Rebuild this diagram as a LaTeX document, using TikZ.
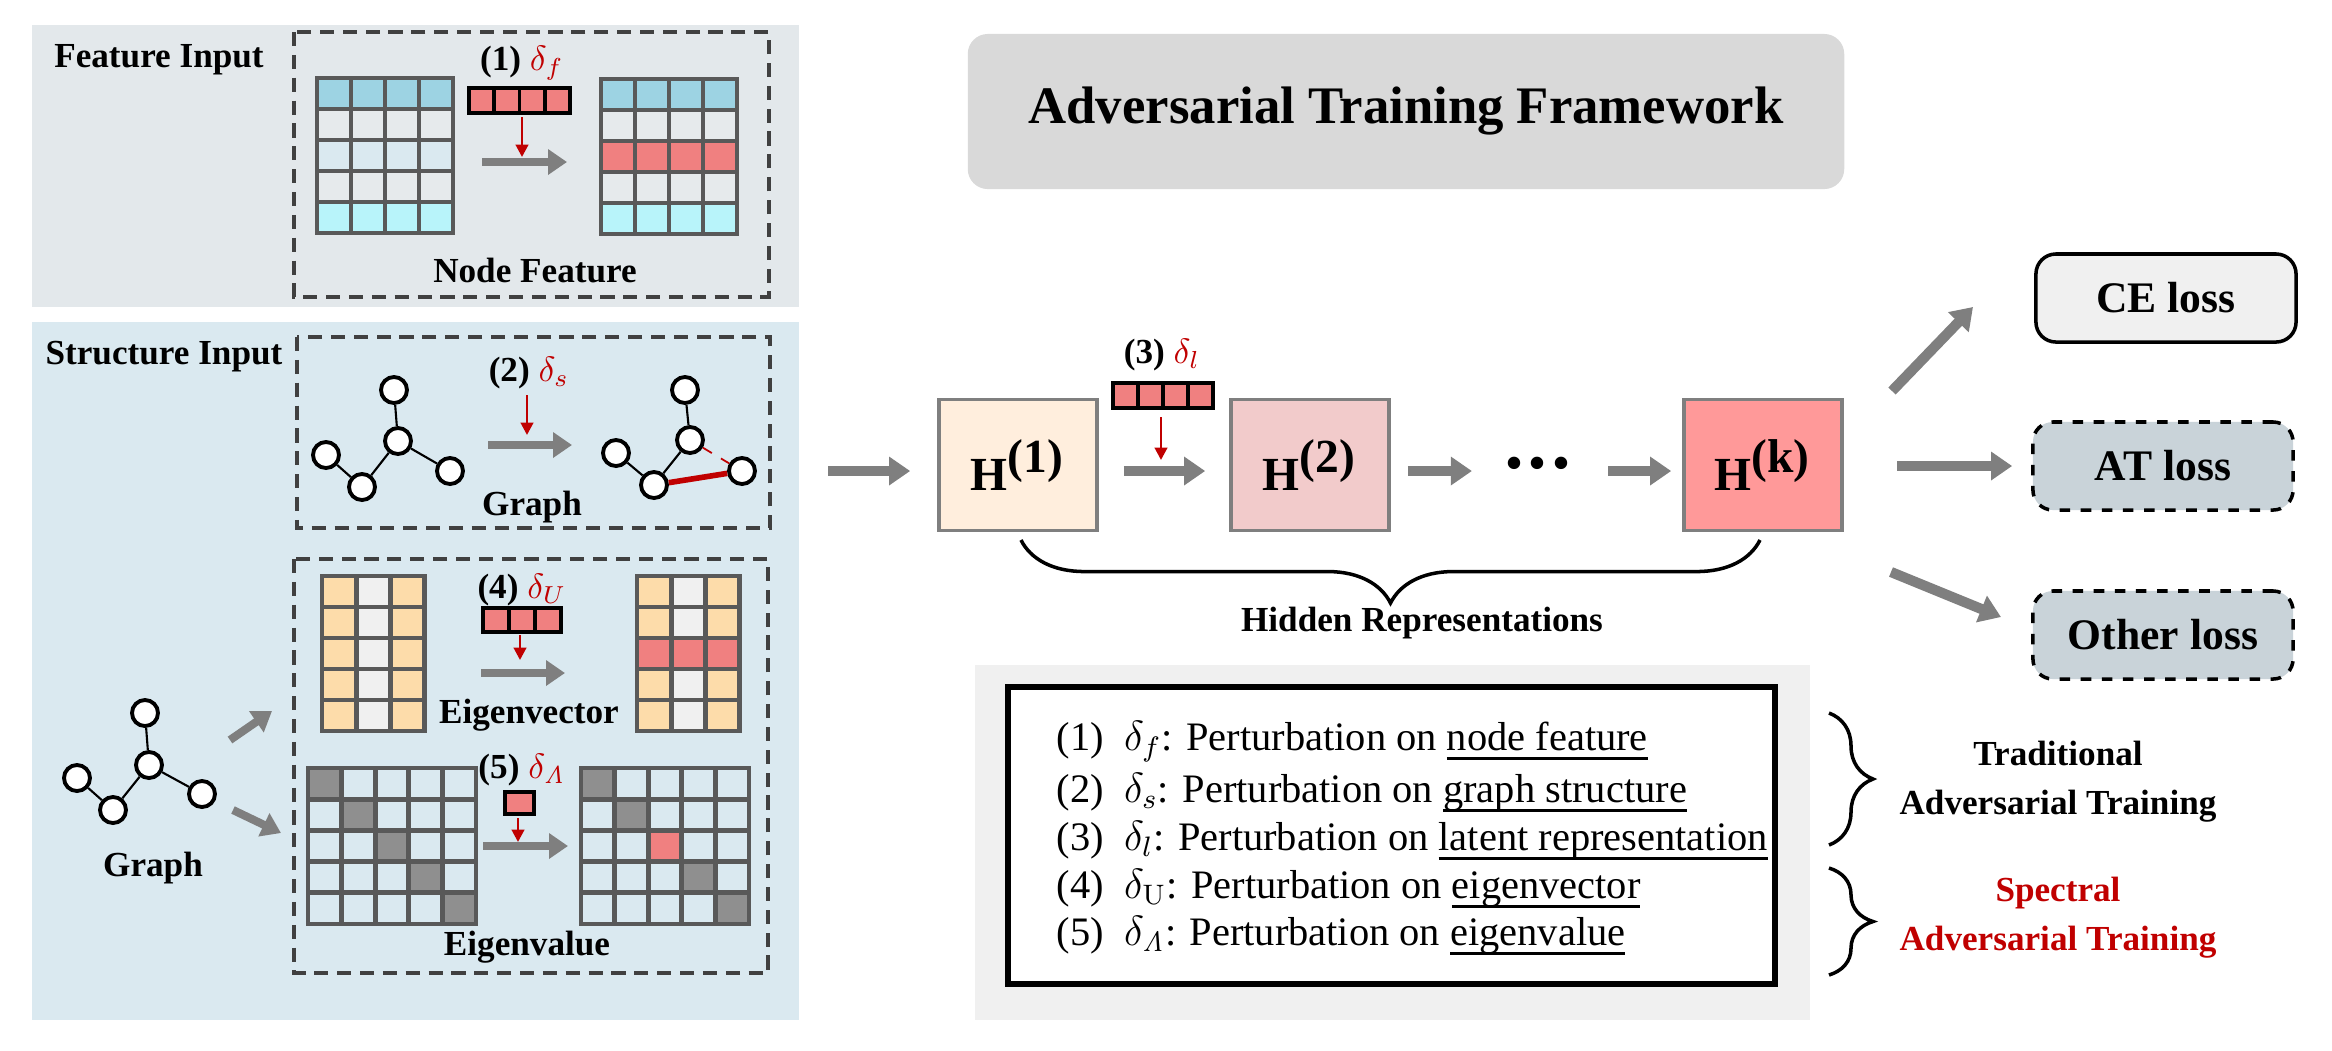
\documentclass[tikz,border=0pt]{standalone}
\usepackage[no-math]{fontspec}
\setmainfont{Liberation Serif}
\usetikzlibrary{arrows.meta,decorations.pathreplacing,positioning}

\definecolor{featbg}{HTML}{E3E8EB}
\definecolor{strbg}{HTML}{DAE9F0}
\definecolor{fblue}{HTML}{9DD3E3}
\definecolor{frow}{HTML}{E6EAEC}
\definecolor{flight}{HTML}{DAE9F0}
\definecolor{fcyan}{HTML}{B8F4FA}
\definecolor{pertred}{HTML}{F08080}
\definecolor{pertdark}{HTML}{C00000}
\definecolor{eorange}{HTML}{FDDCAA}
\definecolor{egray}{HTML}{F0F0F0}
\definecolor{diaggray}{HTML}{8F8F8F}
\definecolor{gridgray}{HTML}{595959}
\definecolor{dashgray}{HTML}{404040}
\definecolor{arrgray}{HTML}{7F7F7F}
\definecolor{hone}{HTML}{FFEEDD}
\definecolor{htwo}{HTML}{F2CBCB}
\definecolor{hk}{HTML}{FF9999}
\definecolor{titlegray}{HTML}{D9D9D9}
\definecolor{legbg}{HTML}{F0F0F0}
\definecolor{atgray}{HTML}{C9D3D9}

\newcommand{\lab}{\fontsize{10}{12}\selectfont\bfseries}
\newcommand{\undl}[1]{\setbox0=\hbox{#1}\rlap{\rule[-2.9pt]{\wd0}{0.9pt}}\box0}

\tikzset{
  dashbox/.style={draw=dashgray, line width=1.1pt, dash pattern=on 4pt off 2.5pt},
  cell/.style={draw=gridgray, line width=1.4pt},
  vcell/.style={draw=black, line width=1.1pt, fill=pertred},
  gnode/.style={circle, draw=black, fill=white, line width=1.1pt, minimum size=0.26cm, inner sep=0pt},
  gedge/.style={line width=0.6pt},
  grayarr/.style={draw=arrgray, line width=2.3pt, -{Triangle[length=5.4pt,width=7pt]}},
  grayarrbig/.style={draw=arrgray, line width=2.9pt, -{Triangle[length=6pt,width=7.8pt]}},
  redarr/.style={draw=pertdark, line width=0.8pt, -{Triangle[length=3.5pt,width=3.5pt]}},
  hbox/.style={draw=arrgray, line width=1pt, minimum width=1.58cm, minimum height=1.31cm, font=\fontsize{13.5}{15}\selectfont},
  lossbox/.style={rounded corners=0.2cm, line width=1pt, minimum width=2.6cm, minimum height=0.88cm, font=\fontsize{12.4}{14}\selectfont\bfseries},
  brace/.style={decorate, line width=1pt}
}

\begin{document}
\begin{tikzpicture}[x=0.01cm,y=-0.01cm]
\useasboundingbox (0,0) rectangle (2332,1050);

% input panels
\fill[featbg] (32,25) rectangle (799,307);
\fill[strbg] (32,322) rectangle (799,1020);
\draw[dashbox] (294,32) rectangle (769,297);
\draw[dashbox] (297,337) rectangle (770,528);
\draw[dashbox] (294,559) rectangle (768,973);
\node[font=\lab] (featin) at (159,60) {Feature Input};
\node[font=\lab] (strin) at (164,357) {Structure Input};

% node feature
\foreach \c [count=\r from 0] in {fblue,frow,flight,frow,fcyan}
  \foreach \k in {0,...,3}
    \draw[cell,fill=\c] ({317+34*\k},{78+31*\r}) rectangle ++(34,31);
\foreach \c [count=\r from 0] in {fblue,frow,pertred,frow,fcyan}
  \foreach \k in {0,...,3}
    \draw[cell,fill=\c] ({601+34*\k},{79+31*\r}) rectangle ++(34,31);
\foreach \k in {0,...,3}
  \draw[vcell] ({469+25.25*\k},88) rectangle ++(25.25,25);
\node[font=\lab] (pf) at (522,63) {(1) \textcolor{pertdark}{$\delta_f$}};
\coordinate (rf1) at (522,117);
\coordinate (rf2) at (522,157);
\draw[redarr] (rf1) -- (rf2);
\coordinate (af1) at (482,162);
\coordinate (af2) at (567,162);
\draw[grayarr] (af1) -- (af2);
\node[font=\lab] (nodefeat) at (535,270) {Node Feature};

% graph structure
\node[gnode] (ga1) at (394,390) {};
\node[gnode] (ga2) at (398,441) {};
\node[gnode] (ga3) at (326,455) {};
\node[gnode] (ga4) at (362,487) {};
\node[gnode] (ga5) at (450,471) {};
\draw[gedge] (ga1) -- (ga2) (ga2) -- (ga4) (ga4) -- (ga3) (ga2) -- (ga5);
\node[gnode] (gb1) at (685,390) {};
\node[gnode] (gb2) at (690,440) {};
\node[gnode] (gb3) at (616,453) {};
\node[gnode] (gb4) at (654,485) {};
\node[gnode] (gb5) at (742,471) {};
\draw[gedge] (gb1) -- (gb2) (gb2) -- (gb4) (gb4) -- (gb3);
\draw[pertdark, line width=1.6pt] (gb4) -- (gb5);
\draw[pertdark, line width=0.5pt, dashed] (gb2) -- (gb5);
\node[font=\lab] (ps) at (529,373) {(2) \textcolor{pertdark}{$\delta_s$}};
\coordinate (rs1) at (527,395);
\coordinate (rs2) at (527,435);
\draw[redarr] (rs1) -- (rs2);
\coordinate (as1) at (488,445);
\coordinate (as2) at (572,445);
\draw[grayarr] (as1) -- (as2);
\node[font=\lab] (graph) at (532,507) {Graph};

% spectral input graph
\node[gnode] (gc1) at (145,713) {};
\node[gnode] (gc2) at (149,765) {};
\node[gnode] (gc3) at (77,778) {};
\node[gnode] (gc4) at (113,810) {};
\node[gnode] (gc5) at (202,794) {};
\draw[gedge] (gc1) -- (gc2) (gc2) -- (gc4) (gc4) -- (gc3) (gc2) -- (gc5);
\node[font=\lab] (graphc) at (153,868) {Graph};
\coordinate (ac1) at (230,740);
\coordinate (ac2) at (272,711);
\draw[grayarr] (ac1) -- (ac2);
\coordinate (ac3) at (233,810);
\coordinate (ac4) at (281,833);
\draw[grayarr] (ac3) -- (ac4);

% eigenvector
\foreach \c [count=\k from 0] in {eorange,egray,eorange}
  \foreach \r in {0,...,4} {
    \draw[cell,fill=\c] ({322+34.3*\k},{576+31*\r}) rectangle ++(34.3,31);
    \draw[cell,fill=\c] ({637+34.3*\k},{576+31*\r}) rectangle ++(34.3,31);
  }
\foreach \k in {0,1,2}
  \draw[cell,fill=pertred] ({637+34.3*\k},638) rectangle ++(34.3,31);
\foreach \k in {0,1,2}
  \draw[vcell] ({483+26*\k},608) rectangle ++(26,24);
\node[font=\lab] (pu) at (522,590) {(4) \textcolor{pertdark}{$\delta_U$}};
\coordinate (ru1) at (520,635);
\coordinate (ru2) at (520,660);
\draw[redarr] (ru1) -- (ru2);
\coordinate (au1) at (481,673);
\coordinate (au2) at (565,673);
\draw[grayarr] (au1) -- (au2);
\node[font=\lab] (eigvec) at (529,715) {Eigenvector};

% eigenvalue
\foreach \r in {0,...,4}
  \foreach \k in {0,...,4} {
    \draw[cell,fill=strbg] ({308+33.6*\k},{768+31.2*\r}) rectangle ++(33.6,31.2);
    \draw[cell,fill=strbg] ({581+33.6*\k},{768+31.2*\r}) rectangle ++(33.6,31.2);
  }
\foreach \k in {0,...,4}
  \draw[cell,fill=diaggray] ({308+33.6*\k},{768+31.2*\k}) rectangle ++(33.6,31.2);
\foreach \k in {0,1,3,4}
  \draw[cell,fill=diaggray] ({581+33.6*\k},{768+31.2*\k}) rectangle ++(33.6,31.2);
\draw[cell,fill=pertred] (648.2,830.4) rectangle ++(33.6,31.2);
\draw[vcell] (505,792) rectangle (534,814);
\node[font=\lab] (pl) at (522,770) {(5) \textcolor{pertdark}{$\delta_{\mathit{\Lambda}}$}};
\coordinate (rl1) at (518,818);
\coordinate (rl2) at (518,842);
\draw[redarr] (rl1) -- (rl2);
\coordinate (al1) at (483,846);
\coordinate (al2) at (568,846);
\draw[grayarr] (al1) -- (al2);
\node[font=\lab] (eigval) at (527,947) {Eigenvalue};

% framework
\node[rounded corners=0.2cm, fill=titlegray, minimum width=8.76cm, minimum height=1.55cm,
  font=\fontsize{15}{18}\selectfont\bfseries] (title) at (1406,111.5) {Adversarial Training Framework};

\node[hbox, fill=hone] (h1) at (1018,465) {\textbf{H}$^{\textbf{(1)}}$};
\node[hbox, fill=htwo] (h2) at (1310,465) {\textbf{H}$^{\textbf{(2)}}$};
\node (dots) at (1538,468) {\fontsize{13}{14}\selectfont\textbf{\textbullet\,\textbullet\,\textbullet}};
\node[hbox, fill=hk] (hk) at (1763,465) {\textbf{H}$^{\textbf{(k)}}$};
\coordinate (in0) at (828,471);
\draw[grayarrbig, shorten >=0.27cm] (in0) -- (in0 -| h1.west);
\draw[grayarrbig, shorten <=0.25cm, shorten >=0.24cm] (h1.east |- in0) -- (h2.west |- in0);
\draw[grayarrbig, shorten <=0.17cm, shorten >=0.22cm] (h2.east |- in0) -- (dots.west |- in0);
\draw[grayarrbig, shorten <=0.26cm, shorten >=0.11cm] (dots.east |- in0) -- (hk.west |- in0);
\foreach \k in {0,...,3}
  \draw[vcell] ({1113+25*\k},383) rectangle ++(25,25);
\node[font=\lab] (pl3) at (1162,355) {(3) \textcolor{pertdark}{$\delta_l$}};
\coordinate (rh1) at (1161,417);
\coordinate (rh2) at (1161,460);
\draw[redarr] (rh1) -- (rh2);
\coordinate (br1) at (1021,540);
\coordinate (br2) at (1760,540);
\draw[brace, decoration={brace, mirror, amplitude=0.63cm}] (br1) -- (br2);
\node[font=\lab] (hidrep) at (1422,623) {Hidden Representations};

% losses
\node[lossbox, draw=black, fill=legbg] (celoss) at (2166,298) {CE loss};
\node[lossbox, draw=black, dashed, fill=atgray] (atloss) at (2163,466) {AT loss};
\node[lossbox, draw=black, dashed, fill=atgray] (otherloss) at (2163,635) {Other loss};
\coordinate (o1) at (1892,391);
\coordinate (o2) at (1973,307);
\draw[grayarrbig] (o1) -- (o2);
\coordinate (o3) at (1897,466);
\draw[grayarrbig, shorten >=0.19cm] (o3) -- (atloss.west);
\coordinate (o5) at (1891,572);
\coordinate (o6) at (2001,617);
\draw[grayarrbig] (o5) -- (o6);

% legend
\fill[legbg] (975,665) rectangle (1810,1020);
\draw[line width=1.5pt, fill=white] (1008,687) rectangle (1775,984);
\begin{scope}[every node/.style={anchor=base west, inner sep=0pt, font=\fontsize{11.5}{13}\selectfont}]
\node (l1) at (1056,750) {(1)\ \ $\delta_f$: Perturbation on \undl{node feature}};
\node (l2) at (1056,802) {(2)\ \ $\delta_s$: Perturbation on \undl{graph structure}};
\node (l3) at (1056,850) {(3)\ \ $\delta_l$: Perturbation on \undl{latent representation}};
\node (l4) at (1056,898) {(4)\ \ $\delta_{\mathrm{U}}$: Perturbation on \undl{eigenvector}};
\node (l5) at (1056,945) {(5)\ \ $\delta_{\mathit{\Lambda}}$: Perturbation on \undl{eigenvalue}};
\end{scope}
\coordinate (b1) at (1829,713);
\coordinate (b2) at (1829,845);
\draw[brace, decoration={brace, amplitude=0.44cm}] (b1) -- (b2);
\coordinate (b3) at (1829,868);
\coordinate (b4) at (1829,975);
\draw[brace, decoration={brace, amplitude=0.44cm}] (b3) -- (b4);
\node[font=\lab, align=center] (trad) at (2058,782) {Traditional\\[2pt]Adversarial Training};
\node[font=\lab, align=center, text=pertdark] (spec) at (2058,918) {Spectral\\[2pt]Adversarial Training};
\end{tikzpicture}
\end{document}
